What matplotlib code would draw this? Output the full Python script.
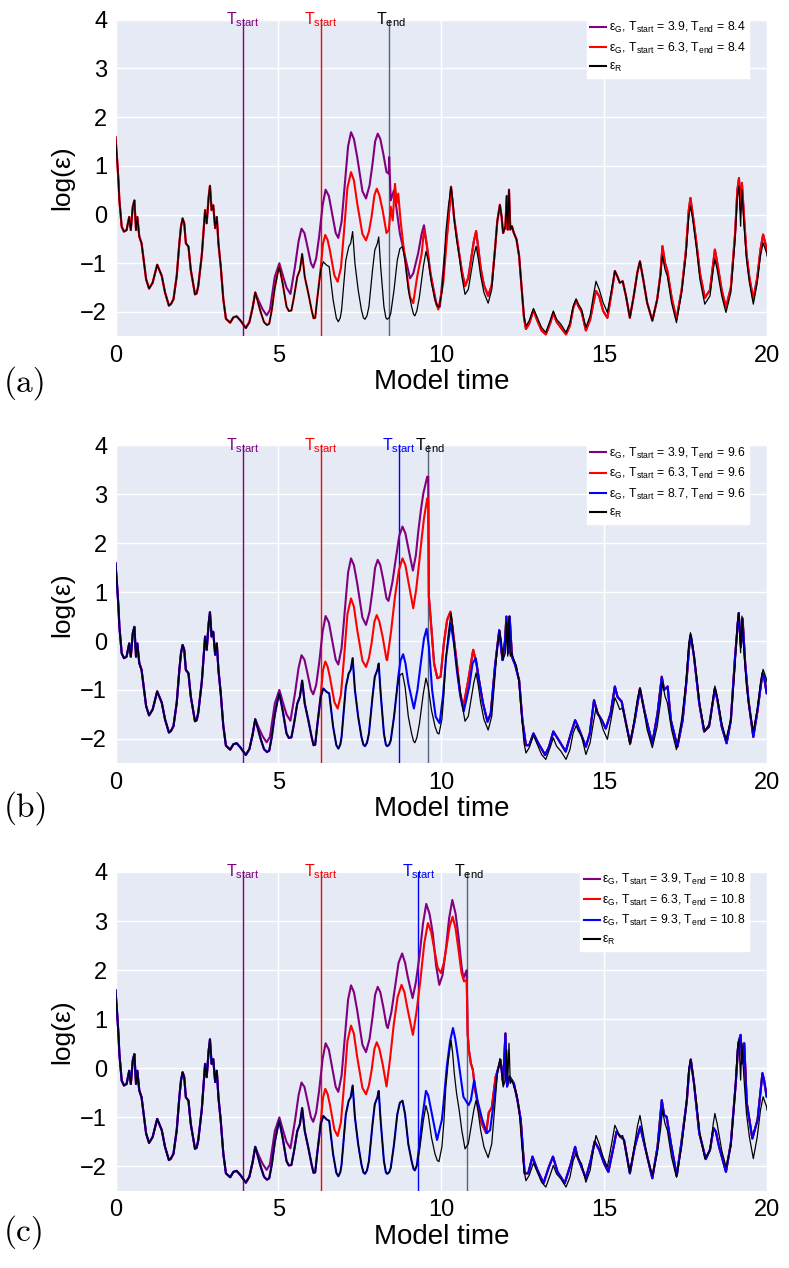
import matplotlib
matplotlib.use("Agg")
import matplotlib.pyplot as plt
import matplotlib.transforms as mtransforms

plt.rcParams['font.family'] = ['Liberation Sans', 'DejaVu Sans']
plt.rcParams['mathtext.fontset'] = 'custom'
plt.rcParams['mathtext.rm'] = 'Liberation Sans'
plt.rcParams['mathtext.it'] = 'Liberation Sans:italic'
plt.rcParams['mathtext.bf'] = 'Liberation Sans:bold'

# ---------------- data ----------------
# reference solution eps_R : (time, log eps)
REF = [
    (0.00, 1.59), (0.06, 1.03), (0.09, 0.70), (0.12, 0.29), (0.19, -0.25), (0.26, -0.35),
    (0.34, -0.32), (0.42, -0.05), (0.47, -0.32), (0.53, 0.16), (0.58, 0.29), (0.63, -0.32),
    (0.67, -0.05), (0.73, -0.45), (0.80, -0.59), (0.85, -0.86), (0.94, -1.33), (1.03, -1.52),
    (1.14, -1.40), (1.28, -1.03), (1.42, -1.26), (1.52, -1.60), (1.64, -1.87), (1.70, -1.84),
    (1.78, -1.74), (1.88, -1.26), (1.96, -0.59), (2.01, -0.25), (2.06, -0.08), (2.11, -0.18),
    (2.16, -0.59), (2.24, -0.66), (2.31, -1.13), (2.44, -1.64), (2.49, -1.62), (2.54, -1.47),
    (2.65, -0.83), (2.75, 0.09), (2.80, -0.18), (2.86, 0.36), (2.90, 0.59), (2.95, 0.09),
    (3.00, 0.19), (3.06, -0.28), (3.11, -0.05), (3.16, -0.59), (3.23, -1.06), (3.31, -1.74),
    (3.39, -2.14), (3.52, -2.22), (3.62, -2.11), (3.72, -2.09), (3.84, -2.18), (4.00, -2.33),
    (4.11, -2.21), (4.21, -1.91), (4.29, -1.60), (4.35, -1.74), (4.46, -2.01), (4.56, -2.21),
    (4.65, -2.27), (4.72, -2.24), (4.80, -1.95), (4.89, -1.50), (4.98, -1.20), (5.03, -1.07),
    (5.13, -1.41), (5.25, -1.89), (5.32, -1.98), (5.40, -1.97), (5.48, -1.69), (5.58, -1.28),
    (5.66, -1.14), (5.73, -0.81), (5.81, -1.28), (5.92, -1.62), (6.02, -1.96), (6.08, -2.13),
    (6.13, -2.12), (6.19, -1.75), (6.30, -1.14), (6.38, -0.97), (6.48, -1.04), (6.56, -1.07),
    (6.68, -1.75), (6.78, -2.13), (6.84, -2.20), (6.90, -2.12), (6.94, -1.96), (7.07, -0.94),
    (7.16, -0.66), (7.22, -0.59), (7.28, -0.35), (7.35, -1.00), (7.45, -1.55), (7.55, -1.96),
    (7.61, -2.12), (7.66, -2.15), (7.72, -2.08), (7.78, -1.89), (7.89, -1.14), (7.96, -0.73),
    (8.04, -0.59), (8.08, -0.46), (8.14, -1.07), (8.24, -1.89), (8.30, -2.12), (8.34, -2.15),
    (8.40, -2.12), (8.45, -2.03), (8.55, -1.55), (8.65, -0.94), (8.73, -0.70), (8.81, -0.66),
    (8.89, -0.94), (8.99, -1.55), (9.09, -1.89), (9.15, -2.05), (9.19, -2.08), (9.25, -1.98),
    (9.33, -1.69), (9.45, -1.07), (9.53, -0.76), (9.60, -0.94), (9.70, -1.41), (9.81, -1.75),
    (9.88, -1.88), (9.93, -1.90), (10.02, -1.60), (10.08, -1.10), (10.14, -0.38), (10.22, 0.17),
    (10.30, 0.57), (10.35, 0.31), (10.40, -0.10), (10.47, -0.51), (10.55, -0.85), (10.63, -1.26),
    (10.73, -1.64), (10.83, -1.54), (10.93, -1.13), (11.00, -0.85), (11.07, -0.65), (11.14, -0.92),
    (11.21, -1.26), (11.31, -1.60), (11.44, -1.82), (11.55, -1.54), (11.65, -0.72), (11.72, -0.14),
    (11.80, 0.20), (11.85, -0.03), (11.90, -0.38), (11.97, -0.24), (12.01, 0.38), (12.04, -0.31),
    (12.08, 0.51), (12.12, -0.31), (12.17, -0.24), (12.23, -0.38), (12.31, -0.51), (12.39, -0.85),
    (12.47, -1.54), (12.54, -2.08), (12.60, -2.29), (12.70, -2.18), (12.83, -1.93), (12.95, -2.12),
    (13.08, -2.32), (13.21, -2.42), (13.34, -2.18), (13.44, -1.98), (13.54, -2.15), (13.67, -2.25),
    (13.83, -2.42), (13.95, -2.22), (14.05, -1.88), (14.14, -1.73), (14.21, -1.84), (14.31, -1.95),
    (14.44, -2.32), (14.57, -2.08), (14.67, -1.67), (14.75, -1.37), (14.85, -1.54), (14.97, -1.81),
    (15.10, -2.01), (15.23, -1.54), (15.33, -1.16), (15.40, -1.26), (15.48, -1.40), (15.57, -1.37),
    (15.67, -1.67), (15.79, -2.12), (15.91, -1.67), (16.02, -1.19), (16.10, -0.96), (16.20, -1.33),
    (16.32, -1.81), (16.48, -2.18), (16.63, -1.74), (16.73, -1.26), (16.79, -0.85), (16.87, -1.13),
    (16.94, -1.26), (17.07, -1.81), (17.22, -2.22), (17.38, -1.60), (17.51, -0.85), (17.60, -0.03),
    (17.65, 0.17), (17.72, -0.10), (17.84, -0.72), (17.94, -1.33), (18.09, -1.84), (18.25, -1.67),
    (18.35, -1.13), (18.40, -0.92), (18.47, -1.13), (18.61, -1.67), (18.74, -2.01), (18.89, -1.60),
    (19.02, -0.51), (19.09, 0.38), (19.14, 0.58), (19.19, -0.24), (19.23, 0.51), (19.29, -0.17),
    (19.37, -0.92), (19.46, -1.40), (19.58, -1.84), (19.70, -1.40), (19.80, -0.85), (19.88, -0.58),
    (19.99, -0.79), (20.00, -0.85),
]

# panel (a): eps_G with T_start = 3.9 (where it departs from eps_R)
PURPLE_A = [
    (4.29, -1.60), (4.40, -1.78), (4.52, -1.95), (4.64, -2.07), (4.74, -1.96), (4.89, -1.28),
    (5.03, -1.00), (5.15, -1.28), (5.25, -1.50), (5.37, -1.63), (5.51, -1.07), (5.62, -0.55),
    (5.71, -0.29), (5.80, -0.38), (5.87, -0.59), (6.00, -1.00), (6.07, -1.09), (6.16, -0.90),
    (6.25, -0.46), (6.36, 0.20), (6.45, 0.51), (6.55, 0.38), (6.63, 0.09), (6.76, -0.38),
    (6.84, -0.48), (6.94, -0.15), (7.04, 0.63), (7.14, 1.40), (7.23, 1.69), (7.32, 1.55),
    (7.42, 1.18), (7.58, 0.48), (7.69, 0.33), (7.80, 0.60), (7.89, 1.04), (7.97, 1.50),
    (8.05, 1.66), (8.13, 1.55), (8.22, 1.25), (8.32, 0.87), (8.39, 0.84), (8.40, 1.18),
    (8.45, 0.29), (8.55, 0.50), (8.63, 0.10), (8.73, -0.39), (8.89, -0.87), (9.04, -1.31),
    (9.14, -1.21), (9.29, -0.80), (9.40, -0.39), (9.47, -0.22), (9.55, -0.59), (9.67, -1.21),
    (9.86, -1.86), (9.96, -1.89), (10.11, -0.80),
]
# panel (a): eps_G with T_start = 6.3
RED_A_1 = [
    (6.30, -1.10), (6.37, -0.60), (6.44, -0.42), (6.51, -0.52), (6.58, -0.73), (6.72, -1.25),
    (6.82, -1.38), (6.92, -1.10), (7.01, -0.39), (7.12, 0.55), (7.23, 0.87), (7.32, 0.70),
    (7.42, 0.23), (7.58, -0.40), (7.69, -0.53), (7.78, -0.35), (7.86, -0.05), (7.95, 0.40),
    (8.02, 0.53), (8.10, 0.40), (8.20, 0.09), (8.32, -0.38), (8.39, -0.32), (8.45, 0.16),
    (8.51, -0.12), (8.58, 0.63), (8.63, 0.23), (8.68, 0.43), (8.75, -0.12), (8.83, -0.59),
    (8.94, -1.21), (9.04, -1.69), (9.14, -1.82), (9.26, -1.28), (9.40, -0.80), (9.47, -0.32),
    (9.55, -0.59), (9.65, -1.14), (9.81, -1.75), (9.91, -1.95), (10.06, -1.41), (10.22, -0.12),
    (10.30, 0.57), (10.40, -0.10), (10.55, -0.80), (10.63, -1.15), (10.73, -1.47), (10.83, -1.30),
    (10.93, -0.85), (11.00, -0.55), (11.07, -0.34), (11.14, -0.70), (11.21, -1.10), (11.31, -1.45),
    (11.44, -1.67), (11.55, -1.45), (11.65, -0.72),
]
RED_A_2 = [
    (12.54, -2.12), (12.60, -2.35), (12.70, -2.24), (12.83, -1.96), (12.95, -2.18), (13.08, -2.38),
    (13.21, -2.46), (13.34, -2.24), (13.44, -2.02), (13.54, -2.20), (13.67, -2.32), (13.83, -2.46),
    (13.95, -2.28), (14.05, -1.92), (14.14, -1.76), (14.21, -1.88), (14.31, -2.00), (14.44, -2.38),
    (14.57, -2.16), (14.67, -1.82), (14.75, -1.57), (14.85, -1.68), (14.97, -1.98), (15.10, -2.12),
    (15.23, -1.60),
]
RED_A_3 = [
    (16.73, -1.22), (16.79, -0.65), (16.87, -1.00), (16.94, -1.15), (17.07, -1.70), (17.22, -2.15),
    (17.38, -1.55), (17.51, -0.75), (17.60, 0.10), (17.65, 0.34), (17.72, 0.00), (17.84, -0.62),
    (17.94, -1.20), (18.09, -1.71), (18.25, -1.55), (18.35, -1.00), (18.40, -0.72), (18.47, -0.98),
    (18.61, -1.55), (18.74, -1.91), (18.89, -1.50), (19.02, -0.40), (19.09, 0.50), (19.14, 0.75),
    (19.19, 0.10), (19.23, 0.65), (19.29, 0.00), (19.37, -0.80), (19.46, -1.30), (19.58, -1.74),
    (19.70, -1.30), (19.80, -0.72), (19.88, -0.41), (19.99, -0.70), (20.00, -0.75),
]

# panel (b)
PURPLE_B = [
    (8.38, 0.82), (8.50, 1.20), (8.60, 1.66), (8.71, 2.15), (8.81, 2.34), (8.90, 2.20),
    (8.98, 1.93), (9.13, 1.44), (9.22, 1.75), (9.30, 2.27), (9.38, 2.70), (9.45, 3.02),
    (9.57, 3.36), (9.60, 3.36),
]
RED_B = [
    (8.34, -0.39), (8.46, 0.20), (8.58, 0.91), (8.70, 1.45), (8.81, 1.69), (8.90, 1.55),
    (8.98, 1.25), (9.14, 0.67), (9.23, 1.05), (9.32, 1.59), (9.40, 2.10), (9.47, 2.51),
    (9.57, 2.92), (9.60, 2.90), (9.62, 0.91), (9.67, 0.50), (9.78, -0.46), (9.88, -0.76),
    (9.98, -0.73), (10.08, -0.05), (10.18, 0.43), (10.28, 0.60), (10.38, 0.09), (10.48, -0.46),
    (10.58, -1.07), (10.68, -1.34), (10.83, -0.80), (10.98, -0.18), (11.08, -0.46),
]
BLUE_B = [
    (8.68, -0.73), (8.75, -0.40), (8.83, -0.27), (8.90, -0.45), (8.99, -0.87), (9.16, -1.38),
    (9.27, -1.00), (9.37, -0.46), (9.47, 0.05), (9.55, 0.25), (9.62, -0.12), (9.72, -1.00),
    (9.83, -1.55), (9.95, -1.68), (10.05, -1.14), (10.15, -0.32), (10.29, 0.36), (10.39, -0.05),
    (10.49, -0.66), (10.59, -1.14), (10.69, -1.44), (10.86, -0.93), (10.96, -0.46), (11.06, -0.35),
    (11.16, -0.80), (11.28, -1.27), (11.42, -1.65), (11.52, -1.48), (11.65, -0.52), (11.78, 0.22),
    (11.88, -0.39), (11.96, 0.02), (12.00, 0.50), (12.06, -0.25), (12.10, 0.50), (12.17, -0.32),
    (12.27, -0.49), (12.39, -0.80), (12.49, -1.62), (12.60, -2.13), (12.70, -2.13), (12.83, -1.89),
    (12.98, -2.09), (13.19, -2.33), (13.31, -2.16), (13.44, -1.85), (13.60, -2.02), (13.82, -2.26),
    (13.98, -1.89), (14.11, -1.62), (14.18, -1.72), (14.28, -1.89), (14.44, -2.16), (14.56, -1.89),
    (14.69, -1.21), (14.80, -1.48), (14.93, -1.62), (15.05, -1.79), (15.20, -1.48), (15.33, -0.93),
    (15.41, -1.14), (15.54, -1.24), (15.67, -1.68), (15.80, -2.09), (15.94, -1.62), (16.10, -0.97),
    (16.23, -1.41), (16.35, -1.75), (16.48, -2.09), (16.64, -1.48), (16.77, -0.73), (16.84, -1.00),
    (16.95, -0.93), (17.05, -1.62), (17.25, -2.16), (17.41, -1.62), (17.53, -0.80), (17.61, -0.12),
    (17.66, 0.12), (17.76, -0.32), (17.92, -1.27), (18.07, -1.85), (18.22, -1.75), (18.33, -1.27),
    (18.40, -0.97), (18.48, -1.21), (18.61, -1.75), (18.76, -2.09), (18.89, -1.62), (19.02, -0.32),
    (19.13, 0.57), (19.20, -0.12), (19.25, 0.46), (19.33, -0.46), (19.43, -1.21), (19.58, -1.96),
    (19.71, -1.41), (19.86, -0.66), (19.91, -0.73), (19.99, -1.07), (20.00, -1.07),
]

# panel (c)
PURPLE_C = [
    (8.36, 0.82), (8.47, 1.15), (8.57, 1.60), (8.69, 2.15), (8.80, 2.34), (8.89, 2.15),
    (8.97, 1.87), (9.12, 1.43), (9.22, 1.75), (9.33, 2.28), (9.44, 2.95), (9.54, 3.35),
    (9.64, 3.15), (9.74, 2.75), (9.84, 2.10), (9.94, 1.70), (10.04, 1.90), (10.14, 2.41),
    (10.24, 3.05), (10.34, 3.43), (10.44, 3.15), (10.53, 2.68), (10.62, 2.10), (10.68, 1.83),
    (10.78, 2.00),
]
RED_C = [
    (8.32, -0.37), (8.43, 0.20), (8.54, 0.88), (8.66, 1.45), (8.78, 1.70), (8.87, 1.55),
    (8.95, 1.26), (9.13, 0.68), (9.24, 1.15), (9.36, 1.80), (9.48, 2.55), (9.59, 2.96),
    (9.69, 2.78), (9.79, 2.41), (9.89, 2.05), (9.99, 1.94), (10.08, 2.15), (10.17, 2.51),
    (10.26, 2.90), (10.35, 3.09), (10.44, 2.85), (10.53, 2.41), (10.62, 1.95), (10.70, 1.77),
    (10.78, 1.80), (10.81, 0.71), (10.85, 0.37), (10.91, 0.10), (10.97, -0.03), (11.04, -0.44),
    (11.14, -0.78), (11.24, -1.12), (11.38, -1.32), (11.46, -0.90), (11.55, -0.80), (11.67, -0.17),
]
BLUE_C = [
    (9.27, -1.87), (9.34, -1.50), (9.41, -1.05), (9.53, -0.46), (9.60, -0.55), (9.68, -0.82),
    (9.87, -1.46), (10.02, -1.05), (10.10, -0.50), (10.17, 0.03), (10.27, 0.55), (10.36, 0.82),
    (10.43, 0.60), (10.51, 0.24), (10.68, -0.58), (10.84, -0.75), (10.91, -0.65), (11.01, -0.24),
    (11.11, -0.65), (11.26, -1.05), (11.40, -1.32), (11.50, -1.26), (11.62, -0.65), (11.72, -0.07),
    (11.82, 0.17), (11.90, -0.31), (11.97, 0.71), (12.02, -0.37), (12.10, -0.17), (12.23, -0.31),
    (12.34, -0.65), (12.44, -1.05), (12.56, -2.14), (12.67, -2.14), (12.80, -1.80), (12.95, -2.07),
    (13.14, -2.34), (13.31, -2.00), (13.43, -1.80), (13.57, -2.11), (13.79, -2.34), (13.98, -1.94),
    (14.11, -1.60), (14.18, -1.80), (14.44, -2.24), (14.59, -1.87), (14.71, -1.49), (14.85, -1.66),
    (15.00, -1.94), (15.13, -2.11), (15.29, -1.60), (15.38, -1.29), (15.46, -1.36), (15.61, -1.46),
    (15.79, -2.14), (15.94, -1.60), (16.11, -1.19), (16.23, -1.53), (16.48, -2.24), (16.64, -1.60),
    (16.77, -0.65), (16.84, -0.95), (16.92, -0.99), (17.05, -1.53), (17.23, -2.19), (17.37, -1.53),
    (17.54, -0.65), (17.61, -0.03), (17.66, 0.18), (17.76, -0.31), (17.92, -1.32), (18.12, -1.85),
    (18.25, -1.66), (18.36, -1.22), (18.43, -1.29), (18.53, -1.60), (18.74, -2.11), (18.89, -1.53),
    (19.04, -0.31), (19.12, 0.51), (19.19, 0.68), (19.24, 0.10), (19.30, 0.51), (19.38, -0.71),
    (19.55, -1.43), (19.71, -1.05), (19.86, -0.10), (19.91, -0.24), (19.99, -0.58), (20.00, -0.58),
]

T_START = {'a': [3.9, 6.3], 'b': [3.9, 6.3, 8.7], 'c': [3.9, 6.3, 9.3]}
T_END = {'a': 8.4, 'b': 9.6, 'c': 10.8}
PANEL_LABELS = ['(a)', '(b)', '(c)']
X_TICKS = [0, 5, 10, 15, 20]
Y_TICKS = [-2, -1, 0, 1, 2, 3, 4]


def splice(base, seg, lo=None, hi=None):
    """Replace the part of `base` between lo/hi (default: span of `seg`) by the points of `seg`."""
    pts = [p for p in seg if (lo is None or p[0] >= lo) and (hi is None or p[0] <= hi)]
    t0 = pts[0][0] if lo is None else lo
    t1 = pts[-1][0] if hi is None else hi
    out = [p for p in base if p[0] < t0 or p[0] > t1] + pts
    return sorted(out)


red_a = splice(splice(splice(REF, RED_A_1), RED_A_2), RED_A_3)
purple_a = splice(red_a, PURPLE_A)

blue_b = splice(REF, BLUE_B)
red_b = splice(splice(blue_b, RED_A_1, hi=8.335), RED_B)
purple_b = splice(splice(red_b, PURPLE_A, hi=8.375), PURPLE_B)

blue_c = splice(REF, BLUE_C)
red_c = splice(splice(blue_c, RED_A_1, hi=8.315), RED_C)
purple_c = splice(splice(red_c, PURPLE_A, hi=8.355), PURPLE_C)

PANELS = {
    'a': [purple_a, red_a],
    'b': [purple_b, red_b, blue_b],
    'c': [purple_c, red_c, blue_c],
}
COLORS = ['#800080', '#ff0000', '#0000ff']

# ---------------- figure ----------------
W, H = 789, 1268
fig = plt.figure(figsize=(W / 100, H / 100), dpi=100)
left, right = 115.5, 767.0
tops = [19.7, 445.4, 872.0]
bottoms = [336.3, 763.3, 1191.0]
label_y = [383, 808, 1232]
BG = '#e5eaf5'
TEND_COLOR = '#56657a'

for i, key in enumerate(['a', 'b', 'c']):
    ax = fig.add_axes([left / W, 1 - bottoms[i] / H, (right - left) / W, (bottoms[i] - tops[i]) / H])
    ax.set_facecolor(BG)
    for s in ax.spines.values():
        s.set_visible(False)
    ax.grid(True, color='white', lw=1.0)
    ax.set_axisbelow(True)
    ax.set_xlim(0, 20)
    ax.set_ylim(-2.5, 4)
    ax.set_xticks(X_TICKS)
    ax.set_yticks(Y_TICKS)
    ax.tick_params(length=0, labelsize=17, pad=6)

    curves = PANELS[key]
    ts = T_START[key]
    te = T_END[key]
    lines = []
    labels = []
    for c, col, t0 in zip(curves, COLORS, ts):
        tt = [p[0] for p in c]
        yy = [p[1] for p in c]
        ln, = ax.plot(tt, yy, color=col, lw=1.5, zorder=3)
        lines.append(ln)
        labels.append('ε$_\\mathrm{G}$, T$_\\mathrm{start}$ = %.1f, T$_\\mathrm{end}$ = %.1f' % (t0, te))
    ln, = ax.plot([p[0] for p in REF], [p[1] for p in REF], color='black', lw=0.9, zorder=4)
    lines.append(ln)
    labels.append('ε$_\\mathrm{R}$')

    trans = mtransforms.blended_transform_factory(ax.transData, ax.transAxes)
    for t0, col in zip(ts, COLORS):
        ax.axvline(t0, color=col, lw=1.0, zorder=2)
        ax.text(t0, 0.985, 'T$_\\mathrm{start}$', color=col, fontsize=11.5, ha='center', va='baseline',
                transform=trans, zorder=6)
    ax.axvline(te, color=TEND_COLOR, lw=1.0, zorder=2)
    ax.text(te + 0.06, 0.985, 'T$_\\mathrm{end}$', color='black', fontsize=11.5, ha='center', va='baseline',
            transform=trans, zorder=6)

    ax.set_xlabel('Model time', fontsize=20, labelpad=2)
    ax.set_ylabel('log(ε)', fontsize=19, labelpad=4)

    axw = right - left
    axh = bottoms[i] - tops[i]
    leg = ax.legend(lines, labels, loc='upper right',
                    bbox_to_anchor=((749 - left) / axw, 1 + 3.5 / axh),
                    borderaxespad=0, fontsize=8.8, handlelength=1.3, handletextpad=0.2,
                    labelspacing=0.45, borderpad=0.3, frameon=True, fancybox=False,
                    framealpha=1.0, facecolor='white', edgecolor='white')
    leg.set_zorder(10)
    for lh in leg.get_lines():
        lh.set_linewidth(1.5)

    fig.text(4 / W, 1 - label_y[i] / H, PANEL_LABELS[i], fontfamily='cmr10', fontsize=24,
             va='center', ha='left')

fig.savefig('out.png', dpi=100)
